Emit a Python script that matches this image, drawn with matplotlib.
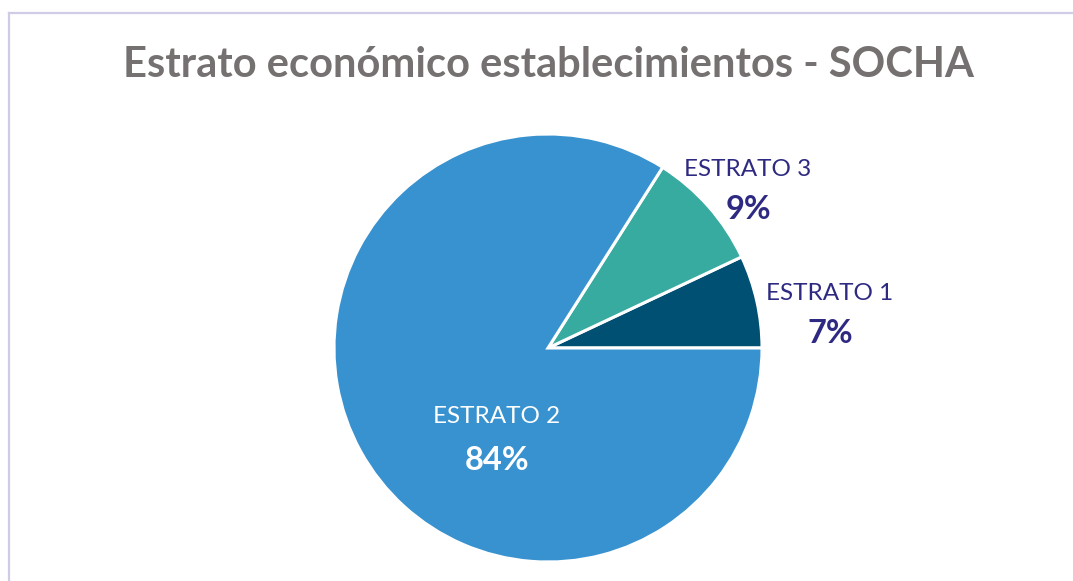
import matplotlib
matplotlib.use("Agg")
import matplotlib.pyplot as plt
from matplotlib.lines import Line2D

plt.rcParams['font.family'] = ['Lato', 'DejaVu Sans']

# data
estratos = ['ESTRATO 1', 'ESTRATO 3', 'ESTRATO 2']
porcentajes = [7, 9, 84]
colores = ['#005073', '#37aba0', '#3892cf']
titulo = 'Estrato económico establecimientos - SOCHA'

W, H = 1073, 581
fig = plt.figure(figsize=(W / 100, H / 100), dpi=100)

# pie centre and radius in pixels
cx, cy, r = 548, 348, 214
ax = fig.add_axes([(cx - r) / W, (H - cy - r) / H, 2 * r / W, 2 * r / H])
ax.pie(porcentajes, colors=colores, startangle=0, counterclock=True,
       radius=1, wedgeprops=dict(edgecolor='white', linewidth=2.2))
ax.set_xlim(-1, 1)
ax.set_ylim(-1, 1)
ax.set_aspect('equal')
ax.axis('off')

# label positions (name, percent) in pie units
pos = {
    'ESTRATO 1': ((1.318, 0.257), (1.318, 0.070), '#2e2a82'),
    'ESTRATO 3': ((0.935, 0.832), (0.935, 0.645), '#2e2a82'),
    'ESTRATO 2': ((-0.238, -0.318), (-0.238, -0.528), 'white'),
}
for nombre, p in zip(estratos, porcentajes):
    (nx_, ny_), (px_, py_), c = pos[nombre]
    ax.text(nx_, ny_, nombre, ha='center', va='center', fontsize=17.5, color=c)
    ax.text(px_, py_, '{}%'.format(p), ha='center', va='center', fontsize=23.5,
            fontweight='bold', color=c)

fig.text(548 / W, 1 - 65 / H, titulo, ha='center', va='center', fontsize=30,
         fontweight='bold', color='#767171')

# chart frame (top and left edges visible)
borde = '#d0cce8'
fig.add_artist(Line2D([9 / W, 1], [1 - 12.5 / H, 1 - 12.5 / H], color=borde, lw=1.6,
                      transform=fig.transFigure))
fig.add_artist(Line2D([9 / W, 9 / W], [0, 1 - 12.5 / H], color=borde, lw=1.6,
                      transform=fig.transFigure))

fig.savefig('out.png', dpi=100, facecolor='white')
